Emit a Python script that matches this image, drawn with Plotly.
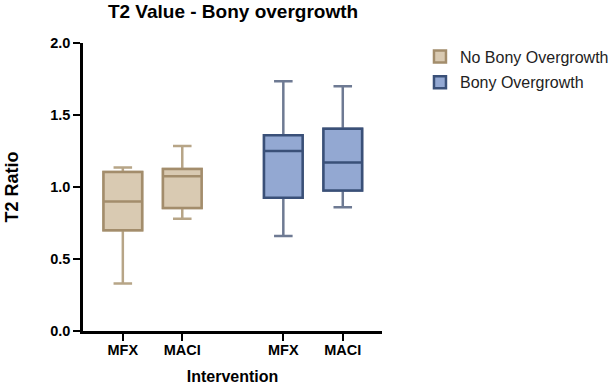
import plotly.graph_objects as go

groups = ["No Bony Overgrowth", "Bony Overgrowth"]
categories = ["MFX", "MACI", "MFX", "MACI"]
positions = [0, 1, 2.7, 3.7]
lower = [0.33, 0.78, 0.66, 0.86]
q1 = [0.70, 0.855, 0.925, 0.975]
median = [0.90, 1.075, 1.25, 1.17]
q3 = [1.105, 1.125, 1.36, 1.405]
upper = [1.135, 1.285, 1.735, 1.70]
group_of = [0, 0, 1, 1]

fills = ["#d9cab2", "#93a8d2"]
lines = ["#a38d6c", "#3a5078"]
whisker_colors = ["#b7a587", "#6e7a93"]

fig = go.Figure()
for g in range(2):
    idx = [i for i in range(4) if group_of[i] == g]
    xs = [positions[i] for i in idx]
    # whisker layer (lighter colour)
    fig.add_trace(go.Box(
        name=groups[g],
        x=xs,
        q1=[q1[i] for i in idx],
        median=[median[i] for i in idx],
        q3=[q3[i] for i in idx],
        lowerfence=[lower[i] for i in idx],
        upperfence=[upper[i] for i in idx],
        fillcolor=fills[g],
        line=dict(color=whisker_colors[g], width=2.5),
        width=0.65,
        whiskerwidth=0.48,
        boxpoints=False,
        legendgroup=groups[g],
        showlegend=False,
        hoverinfo="skip",
    ))
    # box layer (darker outline)
    fig.add_trace(go.Box(
        name=groups[g],
        x=xs,
        q1=[q1[i] for i in idx],
        median=[median[i] for i in idx],
        q3=[q3[i] for i in idx],
        lowerfence=[q1[i] for i in idx],
        upperfence=[q3[i] for i in idx],
        fillcolor=fills[g],
        line=dict(color=lines[g], width=2.5),
        width=0.65,
        whiskerwidth=0,
        boxpoints=False,
        legendgroup=groups[g],
        hoverinfo="skip",
    ))

fig.update_layout(
    width=613, height=385,
    margin=dict(l=83, r=231, t=43, b=54, autoexpand=False),
    plot_bgcolor="white", paper_bgcolor="white",
    font=dict(family="Liberation Sans, Arial", color="black"),
    title=dict(text="<b>T2 Value - Bony overgrowth</b>", x=233/613, xanchor="center",
               y=1 - 4.5/385, yanchor="top", pad=dict(t=0, b=0), font=dict(size=19)),
    showlegend=True,
    legend=dict(x=1.127, y=1.012, xanchor="left", yanchor="top",
                font=dict(size=16, color="#222"), tracegroupgap=2,
                bgcolor="rgba(0,0,0,0)"),
    xaxis=dict(range=[-0.67, 4.36], tickvals=positions, ticktext=["<b>%s</b>" % c for c in categories],
               showline=True, linecolor="black", linewidth=2.5, ticks="outside",
               ticklen=7, tickwidth=2, tickcolor="black", showgrid=False, zeroline=False,
               tickfont=dict(size=14.5), automargin=False, ticklabelstandoff=-3,
               title=dict(text="<b>Intervention</b>", font=dict(size=16), standoff=14)),
    yaxis=dict(range=[0, 2], tickvals=[0, 0.5, 1.0, 1.5, 2.0],
               ticktext=["<b>0.0</b>", "<b>0.5</b>", "<b>1.0</b>", "<b>1.5</b>", "<b>2.0</b>"],
               showline=True, linecolor="black", linewidth=2.5, ticks="outside",
               ticklen=7, tickwidth=2, tickcolor="black", showgrid=False, zeroline=False,
               tickfont=dict(size=14.5), automargin=False,
               title=dict(text="<b>T2 Ratio</b>", font=dict(size=18), standoff=27)),
)

fig.write_html("out.html", config={"displayModeBar": False},
               post_script="document.body.style.margin='0';")
